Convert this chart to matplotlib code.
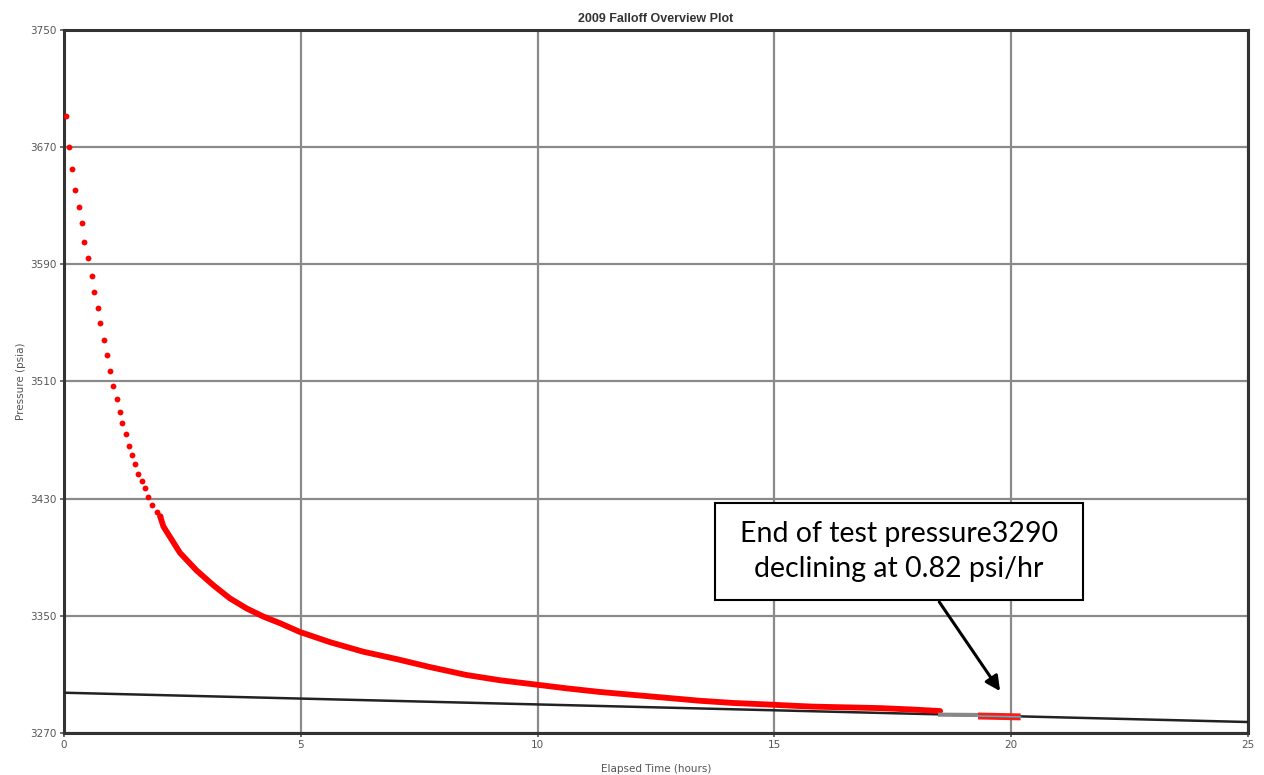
import matplotlib.pyplot as plt
from matplotlib.patches import Rectangle

# early falloff readings (discrete dots)
early_t = [0.04, 0.11, 0.175, 0.226, 0.317, 0.38, 0.429, 0.50, 0.585, 0.64,
           0.712, 0.767, 0.838, 0.914, 0.978, 1.028, 1.113, 1.182, 1.231, 1.303,
           1.379, 1.442, 1.506, 1.569, 1.64, 1.71, 1.78, 1.865, 1.957, 2.03]
early_p = [3691, 3670, 3655, 3641, 3629, 3618, 3605, 3594, 3582, 3571,
           3560, 3550, 3538, 3528, 3517, 3507, 3498, 3489, 3482, 3474,
           3466, 3460, 3454, 3447, 3442, 3437, 3431, 3426, 3421, 3418]

# later readings (dense, dots merge into a band)
late_t = [2.03, 2.10, 2.45, 2.80, 3.15, 3.50, 3.86, 4.21, 4.56, 4.98, 5.62, 6.32,
          7.02, 7.73, 8.50, 9.21, 9.98, 10.61, 11.32, 12.02, 12.73, 13.43,
          14.13, 14.84, 15.47, 15.82, 16.53, 17.23, 17.93, 18.50]
late_p = [3418, 3411, 3393, 3381, 3371, 3362, 3355, 3349.5, 3345, 3339, 3332, 3325.5,
          3320.5, 3315, 3309.6, 3306, 3303, 3300.5, 3298, 3296, 3294, 3292,
          3290.5, 3289.5, 3288.5, 3288, 3287.5, 3287, 3286, 3285]

# end of test segments
gray_t = [18.5, 19.3]
gray_p = [3282.5, 3282.3]
tail_t = [19.3, 20.2]
tail_p = [3281.6, 3281.0]

# trend line (0.82 psi/hr)
trend_t = [0, 25]
trend_p = [3297.5, 3277.5]

fig = plt.figure(figsize=(12.64, 7.75), dpi=100)
ax = fig.add_axes([0.0506, 0.0542, 0.9367, 0.9071])

ax.plot(trend_t, trend_p, color='#222222', lw=1.8, zorder=3)
ax.plot(late_t, late_p, color='#ff0000', lw=4.2, solid_capstyle='round', zorder=4)
ax.plot(early_t, early_p, 'o', color='#ff0000', ms=4.2, mec='none', zorder=4)
ax.plot(gray_t, gray_p, color='#888888', lw=3, zorder=4)
ax.plot(tail_t, tail_p, color='#ff1a1a', lw=5, solid_capstyle='butt', zorder=4)
ax.plot(tail_t, tail_p, color='#30c8d0', lw=1.0, zorder=5)

ax.set_xlim(0, 25)
ax.set_ylim(3270, 3750)
ax.set_xticks([0, 5, 10, 15, 20, 25])
ax.set_yticks([3270, 3350, 3430, 3510, 3590, 3670, 3750])
ax.grid(True, color='#8a8a8a', lw=1.6)
ax.set_axisbelow(True)
for s in ax.spines.values():
    s.set_color('#333333')
    s.set_linewidth(2.2)
ax.tick_params(direction='out', length=3, width=1.2, color='#555555',
               labelsize=7.5, labelcolor='#555555', pad=2)

ax.set_title('2009 Falloff Overview Plot', fontsize=9, fontweight='bold',
             color='#333333', pad=6, family='Liberation Sans')
ax.set_xlabel('Elapsed Time (hours)', fontsize=7.5, color='#555555', labelpad=10)
ax.set_ylabel('Pressure (psia)', fontsize=7.5, color='#555555', labelpad=3)

# callout
ax.add_patch(Rectangle((13.75, 3361), 7.77, 66, facecolor='white',
                       edgecolor='black', lw=1.5, zorder=6))
ax.text(17.63, 3394, 'End of test pressure3290\ndeclining at 0.82 psi/hr',
        ha='center', va='center', fontsize=20.5, family='Lato',
        linespacing=1.45, zorder=7)
ax.annotate('', xy=(19.8, 3297), xytext=(18.45, 3361),
            arrowprops=dict(arrowstyle='-|>', color='black', lw=2.2,
                            mutation_scale=22), zorder=7)

fig.savefig('out.png', dpi=100)
